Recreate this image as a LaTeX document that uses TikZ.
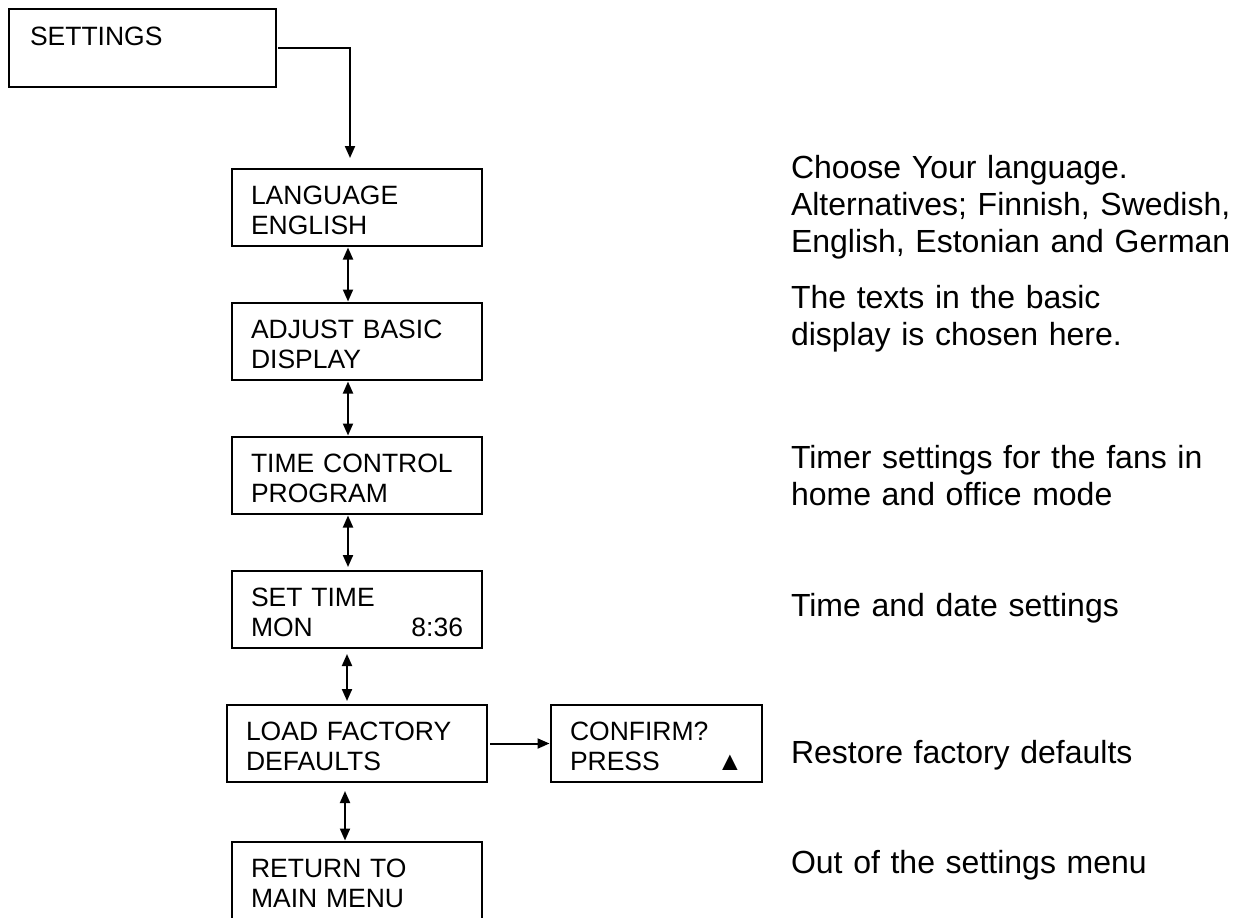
\documentclass[tikz,border=0pt]{standalone}
\usepackage{fontspec}
\setmainfont{Liberation Sans}
\usetikzlibrary{positioning,arrows.meta}

\begin{document}
\begin{tikzpicture}[
        x=0.5pt, y=-0.5pt,
        node distance=28.5pt,
        >={Triangle[length=6pt,width=5pt]},
        every node/.style={inner sep=0pt, outer sep=0pt},
        menu/.style={draw, line width=1pt, inner xsep=9.5pt, text width=106pt, align=left,
            text height=17.5pt, text depth=21pt, font=\fontsize{13.25}{15}\selectfont},
        desc/.style={anchor=base west, text width=240pt, align=left,
            font=\fontsize{16}{18.5}\selectfont},
        link/.style={line width=1pt, shorten <=0.75pt, shorten >=0.75pt}
    ]
    \useasboundingbox (0,0) rectangle (1234,917);
    \clip (0,0) rectangle (1234,917);

    % menu boxes
    \node[menu, anchor=north west, inner xsep=10.5pt, text width=112.5pt, text height=18pt] (settings) at (9,9) {SETTINGS};
    \node[menu, anchor=north west] (language) at (232,169) {LANGUAGE\\ENGLISH};
    \node[menu, below=of language] (adjust) {ADJUST BASIC\\DISPLAY};
    \node[menu, below=of adjust] (timectl) {TIME CONTROL\\PROGRAM};
    \node[menu, below=of timectl] (settime) {SET TIME\\MON\hspace{\stretch{1}}8:36\hspace*{4.5pt}};
    \node[menu, below=of settime, text width=111pt] (loadfac) {LOAD FACTORY\\DEFAULTS};
    \node[menu, right=32pt of loadfac, text width=86.5pt] (confirm) {CONFIRM?\\PRESS\hspace{\stretch{1}}▲\hspace*{3pt}};
    \node[menu, below=30pt of loadfac, text depth=26pt] (retmenu) {RETURN TO\\MAIN MENU};

    % connectors
    \draw[link, ->, shorten <=1pt, shorten >=5.5pt] (settings.east) -| ([xshift=-3.5pt]language.north);
    \draw[link, <->] ([xshift=-4.5pt]language.south) -- ([xshift=-4.5pt]adjust.north);
    \draw[link, <->] ([xshift=-4.5pt]adjust.south) -- ([xshift=-4.5pt]timectl.north);
    \draw[link, <->, shorten >=2pt] ([xshift=-4.5pt]timectl.south) -- ([xshift=-4.5pt]settime.north);
    \draw[link, <->, shorten <=3pt, shorten >=2pt] ([xshift=-5pt]settime.south) -- ([xshift=-5pt]loadfac.north);
    \draw[link, <->, shorten <=4.5pt] ([xshift=-6pt]loadfac.south) -- ([xshift=-6pt]retmenu.north);
    \draw[link, ->, shorten <=1.5pt] (loadfac.east |- confirm.west) -- (confirm.west);

    % descriptions
    \node[desc] (desclang) at (791,178) {Choose Your language.\\Alternatives; Finnish, Swedish,\\English, Estonian and German};
    \node[desc] (descdisp) at (791,308) {The texts in the basic\\display is chosen here.};
    \node[desc] (desctimer) at (791,468) {Timer settings for the fans in\\home and office mode};
    \node[desc] (descclock) at (791,616) {Time and date settings};
    \node[desc] (descreset) at (791,763) {Restore factory defaults};
    \node[desc] (descexit) at (791,873) {Out of the settings menu};
\end{tikzpicture}
\end{document}
